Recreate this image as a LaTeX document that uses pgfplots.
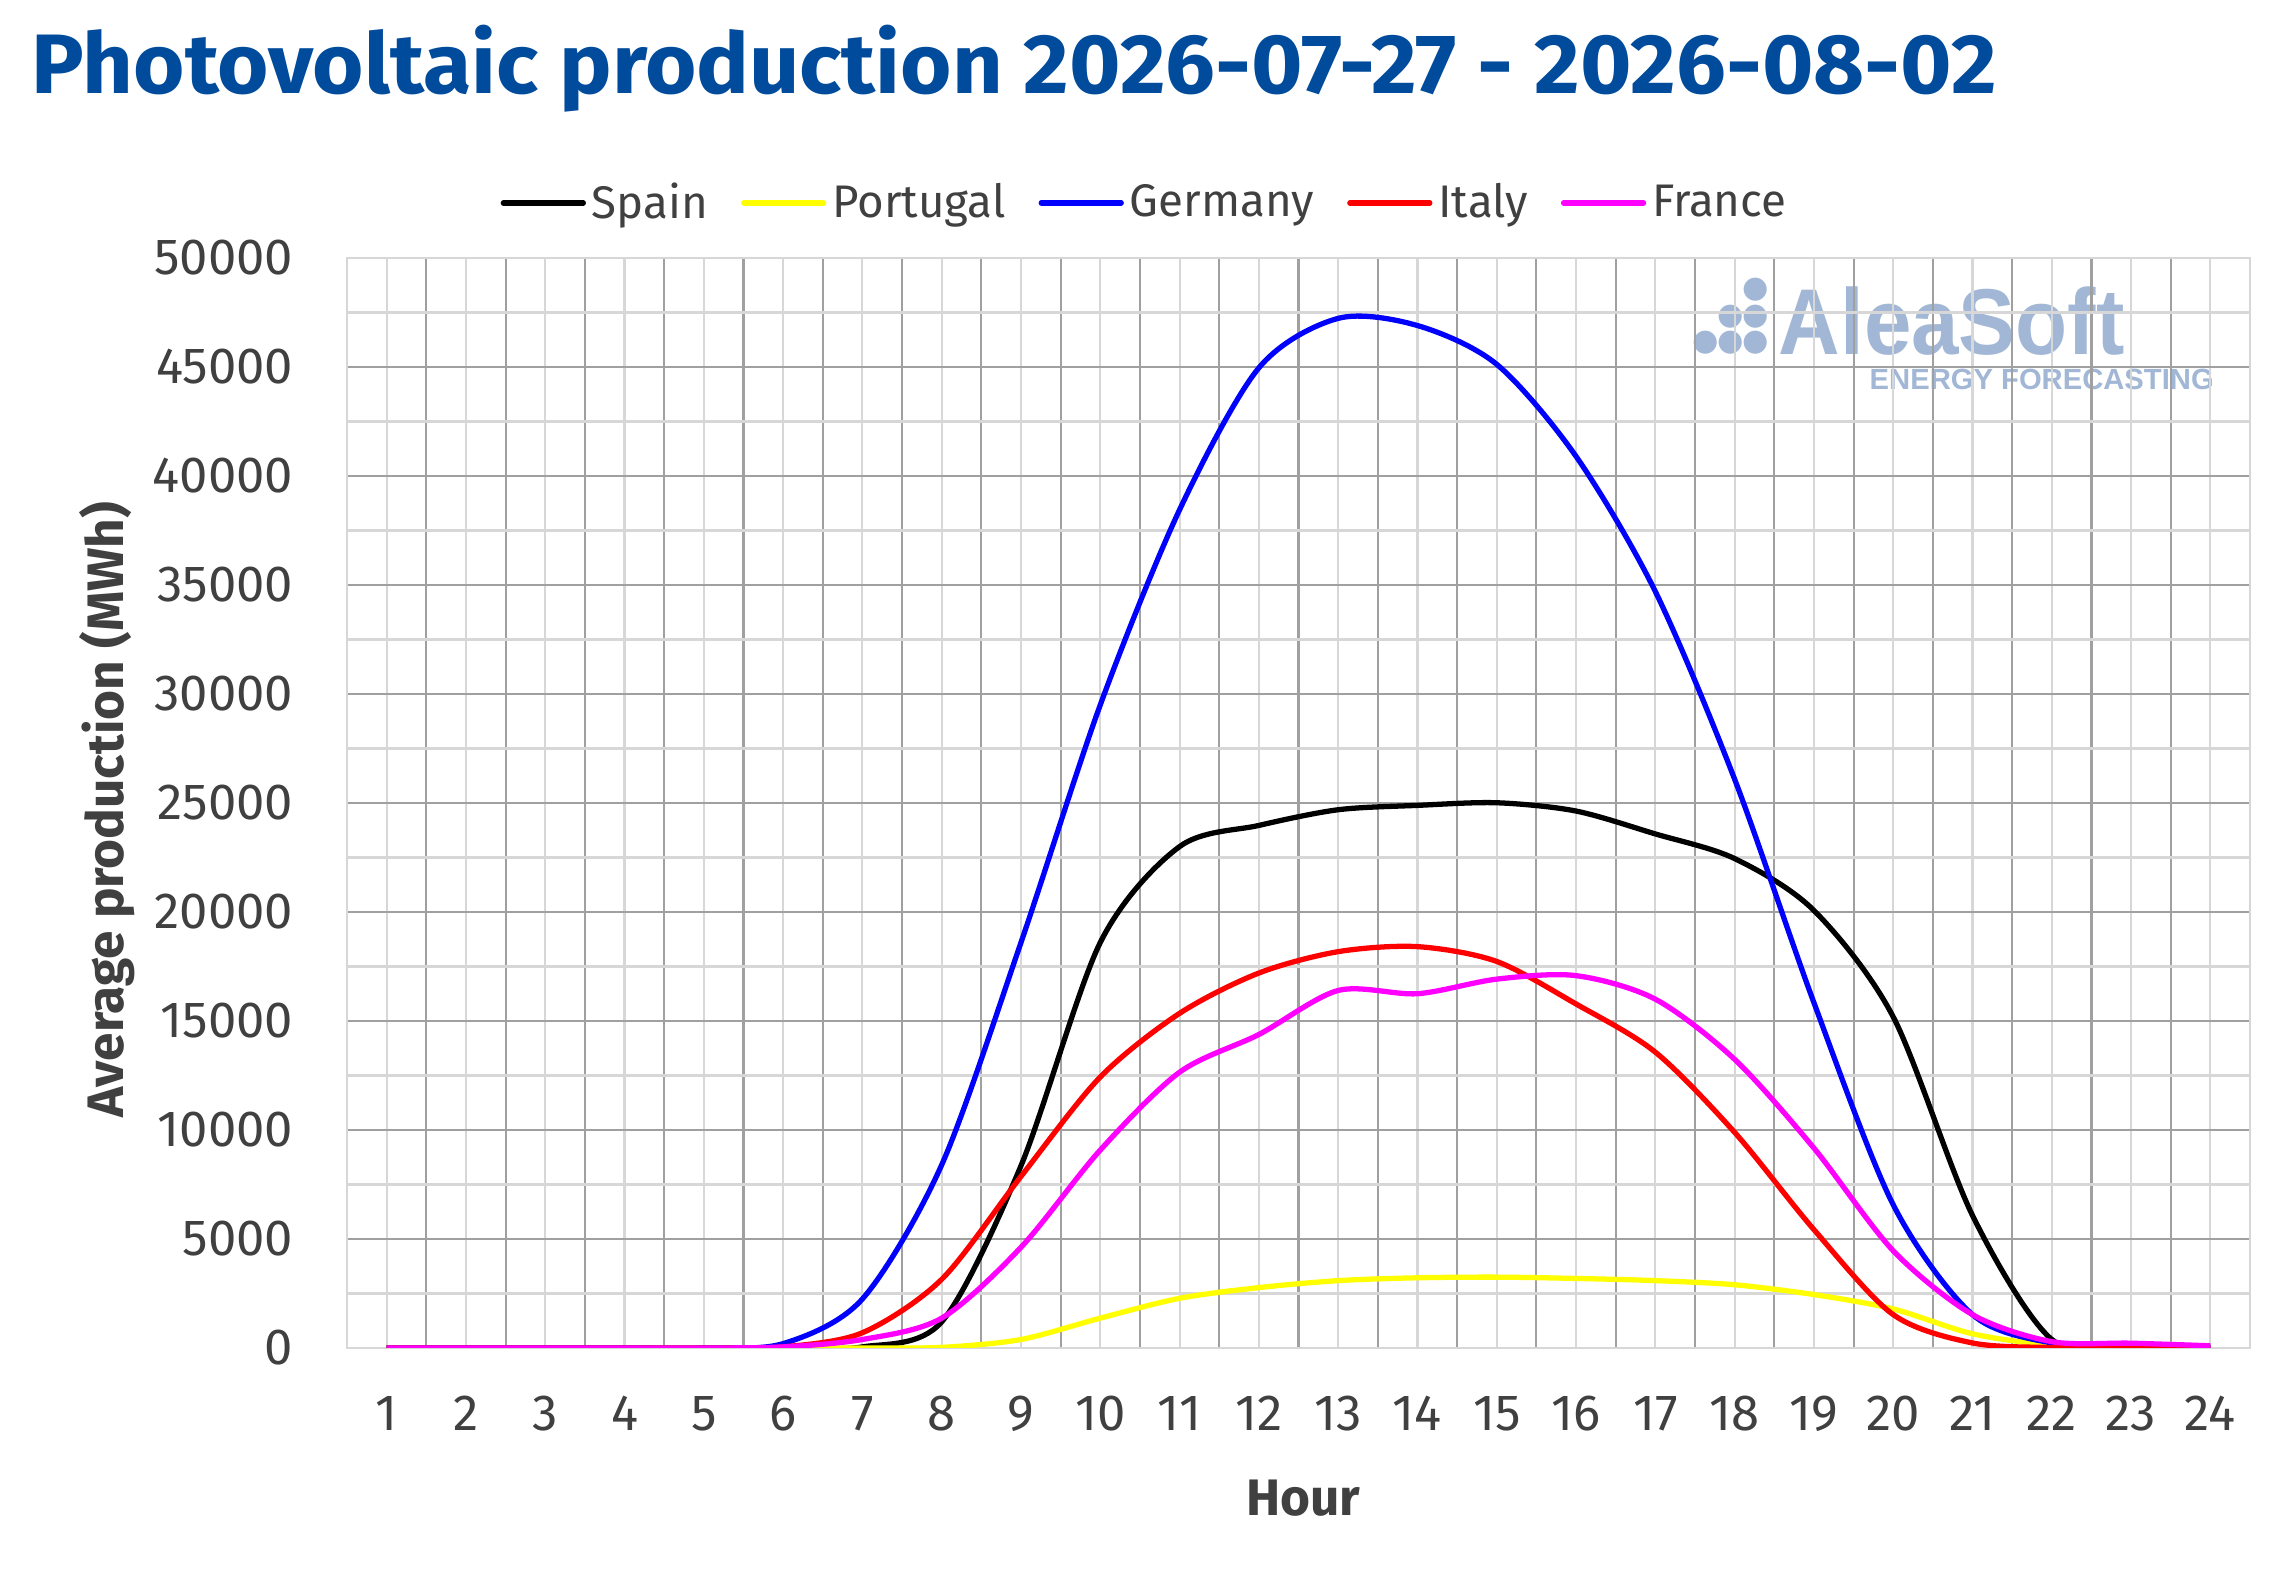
\documentclass[border=0pt]{standalone}
\usepackage{pgfplots}
\pgfplotsset{compat=1.18}
\usepackage{pgfplotstable}
\usepackage{graphicx}
\usepackage{fontspec}
\setmainfont{Fira Sans}
\newfontfamily\logofont{Liberation Sans}
\newfontfamily\dejavu{DejaVu Sans}
\definecolor{titleblue}{RGB}{0,75,155}
\definecolor{wm}{RGB}{161,183,213}
\definecolor{txt}{RGB}{64,64,64}
\definecolor{gmaj}{RGB}{160,160,160}
\definecolor{gmin}{RGB}{215,215,215}
\definecolor{cyellow}{RGB}{255,255,0}
\definecolor{cblue}{RGB}{0,0,255}
\definecolor{cred}{RGB}{255,0,0}
\definecolor{cmag}{RGB}{255,0,255}

\pgfplotstableread{
h spain portugal germany italy france
1 0 0 0 0 0
2 0 0 0 0 0
3 0 0 0 0 0
4 0 0 0 0 0
5 0 0 0 0 0
6 0 0 200 50 50
7 50 0 2250 700 390
8 1200 30 8400 3150 1370
9 8360 390 18600 7870 4620
10 18600 1370 29500 12430 9080
11 23000 2280 38450 15350 12650
12 23970 2770 44960 17200 14380
13 24690 3090 47230 18180 16400
14 24890 3220 46900 18410 16250
15 25010 3250 45120 17730 16920
16 24630 3190 40900 15780 17080
17 23580 3090 34700 13570 16000
18 22450 2900 26090 9890 13240
19 20070 2450 15840 5430 9170
20 15190 1790 6570 1530 4460
21 6080 650 1530 230 1530
22 390 130 230 20 290
23 60 30 60 0 220
24 30 0 30 0 100
}\data

\begin{document}
\begin{tikzpicture}[x=1mm,y=1mm]
\useasboundingbox (0,0) rectangle (227.3,158.9);
\fill[white] (0,0) rectangle (227.3,158.9);
% title
\node[anchor=base west, inner sep=0pt, text=titleblue, font=\bfseries\fontsize{24}{28}\selectfont] at (3.1,149.5) {\resizebox{196.5mm}{\height}{Photovoltaic production 2026-07-27 - 2026-08-02}};
% watermark
\node[anchor=base west, inner sep=0pt, text=wm, font=\logofont\bfseries\fontsize{26.6}{30}\selectfont] at (177.8,123.4) {\resizebox{34.6mm}{\height}{AleaSoft}};
\node[anchor=base west, inner sep=0pt, text=wm, font=\logofont\bfseries\fontsize{8.3}{10}\selectfont] at (186.9,119.9) {\resizebox{34.4mm}{\height}{ENERGY FORECASTING}};
\begin{scope}[every node/.style={inner sep=0pt, text=wm, font=\dejavu\fontsize{8.6}{9}\selectfont}]
\node at (175.53,129.9) {●};
\node at (173.07,127.23) {●};
\node at (175.53,127.23) {●};
\node at (170.6,124.63) {●};
\node at (173.07,124.63) {●};
\node at (175.53,124.63) {●};
\end{scope}
\begin{axis}[
  at={(34.7mm,24.1mm)}, anchor=south west,
  scale only axis, width=190.3mm, height=109mm,
  xmin=0.5, xmax=24.5, ymin=0, ymax=50000,
  scaled y ticks=false,
  xtick={1.5,2.5,...,23.5}, xticklabels={},
  minor xtick={1,2,...,24},
  extra x ticks={1,2,...,24},
  extra x tick labels={1,2,3,4,5,6,7,8,9,10,11,12,13,14,15,16,17,18,19,20,21,22,23,24},
  extra x tick style={grid=none},
  ytick={0,5000,...,50000},
  yticklabels={0,5000,10000,15000,20000,25000,30000,35000,40000,45000,50000},
  minor ytick={2500,7500,...,47500},
  xmajorgrids=true, xminorgrids=true, ymajorgrids=true, yminorgrids=true,
  major grid style={gmaj, line width=0.6pt},
  minor grid style={gmin, line width=0.6pt},
  major tick length=0pt, minor tick length=0pt,
  axis line style={gmin, line width=0.8pt},
  tick label style={font=\fontsize{14.45}{16}\selectfont, text=txt},
  xticklabel style={anchor=north, inner sep=0pt, yshift=-4.75mm},
  yticklabel style={anchor=east, inner sep=0pt, xshift=-5.3mm},
  xlabel={Hour}, ylabel={Average production (MWh)},
  label style={font=\bfseries\fontsize{14.6}{16}\selectfont, text=txt},
  xlabel style={at={(axis description cs:0.5024,-0.1376)}, anchor=center},
  ylabel style={at={(axis description cs:-0.1261,0.494)}, anchor=center},
  legend columns=5,
  legend style={at={(0.0804,1.0505)}, anchor=west, draw=none, fill=none,
    inner sep=0pt, font=\fontsize{13}{15}\selectfont, text=txt,
    nodes={inner sep=0pt},
    /tikz/every odd column/.append style={column sep=0.6mm},
    /tikz/every even column/.append style={column sep=3.3mm}},
  legend image code/.code={\draw[#1, line cap=round] (0mm,0mm) -- (8.0mm,0mm);},
  every axis plot/.append style={line width=1.5pt, smooth, no markers},
]
\addplot[black] table[x=h, y=spain] {\data};
\addplot[cyellow] table[x=h, y=portugal] {\data};
\addplot[cblue] table[x=h, y=germany] {\data};
\addplot[cred] table[x=h, y=italy] {\data};
\addplot[cmag] table[x=h, y=france] {\data};
\legend{Spain, Portugal, Germany, Italy, France}
\end{axis}
\end{tikzpicture}
\end{document}
